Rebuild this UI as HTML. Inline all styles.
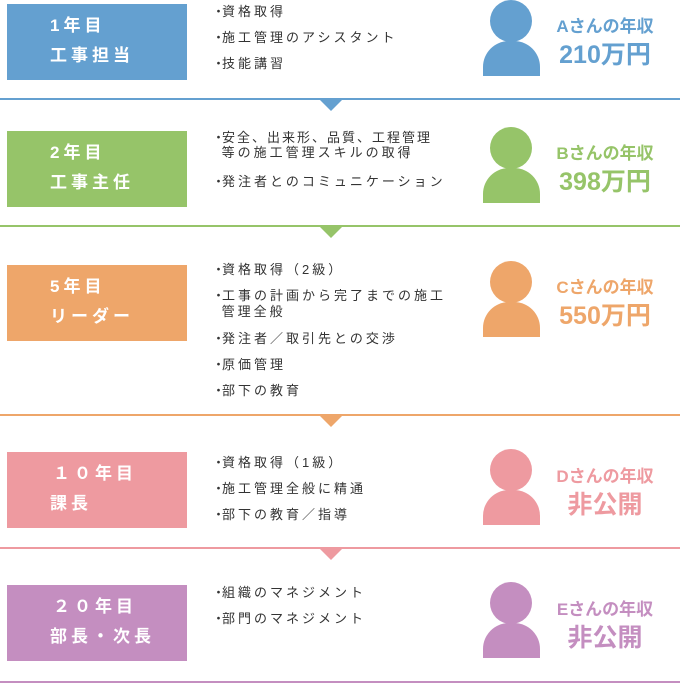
<!DOCTYPE html>
<html><head><meta charset="utf-8"><style>
body{margin:0;width:680px;height:685px;background:#fff;position:relative;overflow:hidden;font-family:"Liberation Sans","Noto Sans CJK JP",sans-serif}
.box{position:absolute;left:7px;width:180px;height:76px;color:#fff;font-weight:bold;font-size:17px;letter-spacing:4px}
.box div{position:absolute;left:43px;white-space:nowrap;line-height:20px}
.ul{position:absolute;left:215px;font-size:13px;letter-spacing:3px;color:#333;line-height:16px}
.ul div{position:absolute;white-space:nowrap}
.ul b{font-weight:normal;display:inline-block;width:10px;letter-spacing:0;margin-left:-3px}
.head{position:absolute;left:490px;width:42px;height:42px;border-radius:50%}
.bd{position:absolute;left:483px;width:57px;height:35px;border-radius:26px 26px 0 0}
.t1{position:absolute;left:546px;width:118px;text-align:center;font-weight:bold;font-size:17px;line-height:20px}
.t2{position:absolute;left:546px;width:118px;text-align:center;font-weight:bold;font-size:25px;line-height:28px}
.ln{position:absolute;left:0;width:680px;height:2px}
.tri{position:absolute;left:320px;width:0;height:0;border-left:11px solid transparent;border-right:11px solid transparent;border-top:11px solid}
</style></head><body>

<!-- 1 -->
<div class="box" style="top:4px;background:#64a0d0"><div style="top:12px">1年目</div><div style="top:42px">工事担当</div></div>
<div class="ul" style="top:4px"><div style="top:0"><b>・</b>資格取得</div><div style="top:26px"><b>・</b>施工管理のアシスタント</div><div style="top:52px"><b>・</b>技能講習</div></div>
<div class="head" style="top:0px;background:#64a0d0"></div><div class="bd" style="top:41px;background:#64a0d0"></div>
<div class="t1" style="top:17px;color:#64a0d0">Aさんの年収</div><div class="t2" style="top:41px;color:#64a0d0">210万円</div>
<div class="ln" style="top:98px;background:#64a0d0"></div><div class="tri" style="top:100px;border-top-color:#64a0d0"></div>

<!-- 2 -->
<div class="box" style="top:131px;background:#96c469"><div style="top:12px">2年目</div><div style="top:42px">工事主任</div></div>
<div class="ul" style="top:130px"><div style="top:0;letter-spacing:2px"><b>・</b>安全、出来形、品質、工程管理</div><div style="top:15px">&nbsp;等の施工管理スキルの取得</div><div style="top:44px"><b>・</b>発注者とのコミュニケーション</div></div>
<div class="head" style="top:127px;background:#96c469"></div><div class="bd" style="top:168px;background:#96c469"></div>
<div class="t1" style="top:144px;color:#96c469">Bさんの年収</div><div class="t2" style="top:168px;color:#96c469">398万円</div>
<div class="ln" style="top:225px;background:#96c469"></div><div class="tri" style="top:227px;border-top-color:#96c469"></div>

<!-- 3 -->
<div class="box" style="top:265px;background:#eea66a"><div style="top:12px">5年目</div><div style="top:42px">リーダー</div></div>
<div class="ul" style="top:262px"><div style="top:0"><b>・</b>資格取得（2級）</div><div style="top:26px"><b>・</b>工事の計画から完了までの施工</div><div style="top:42px">&nbsp;管理全般</div><div style="top:69px"><b>・</b>発注者／取引先との交渉</div><div style="top:95px"><b>・</b>原価管理</div><div style="top:121px"><b>・</b>部下の教育</div></div>
<div class="head" style="top:261px;background:#eea66a"></div><div class="bd" style="top:302px;background:#eea66a"></div>
<div class="t1" style="top:278px;color:#eea66a">Cさんの年収</div><div class="t2" style="top:302px;color:#eea66a">550万円</div>
<div class="ln" style="top:414px;background:#eea66a"></div><div class="tri" style="top:416px;border-top-color:#eea66a"></div>

<!-- 4 -->
<div class="box" style="top:452px;background:#ee9aa0"><div style="top:12px;left:46px">１０年目</div><div style="top:42px">課長</div></div>
<div class="ul" style="top:455px"><div style="top:0"><b>・</b>資格取得（1級）</div><div style="top:26px"><b>・</b>施工管理全般に精通</div><div style="top:52px"><b>・</b>部下の教育／指導</div></div>
<div class="head" style="top:449px;background:#ee9aa0"></div><div class="bd" style="top:490px;background:#ee9aa0"></div>
<div class="t1" style="top:467px;color:#ee9aa0">Dさんの年収</div><div class="t2" style="top:491px;color:#ee9aa0">非公開</div>
<div class="ln" style="top:547px;background:#ee9aa0"></div><div class="tri" style="top:549px;border-top-color:#ee9aa0"></div>

<!-- 5 -->
<div class="box" style="top:585px;background:#c48ec0"><div style="top:12px;left:46px">２０年目</div><div style="top:42px">部長・次長</div></div>
<div class="ul" style="top:585px"><div style="top:0"><b>・</b>組織のマネジメント</div><div style="top:26px"><b>・</b>部門のマネジメント</div></div>
<div class="head" style="top:582px;background:#c48ec0"></div><div class="bd" style="top:623px;background:#c48ec0"></div>
<div class="t1" style="top:600px;color:#c48ec0">Eさんの年収</div><div class="t2" style="top:624px;color:#c48ec0">非公開</div>
<div class="ln" style="top:681px;background:#c48ec0"></div>

</body></html>
